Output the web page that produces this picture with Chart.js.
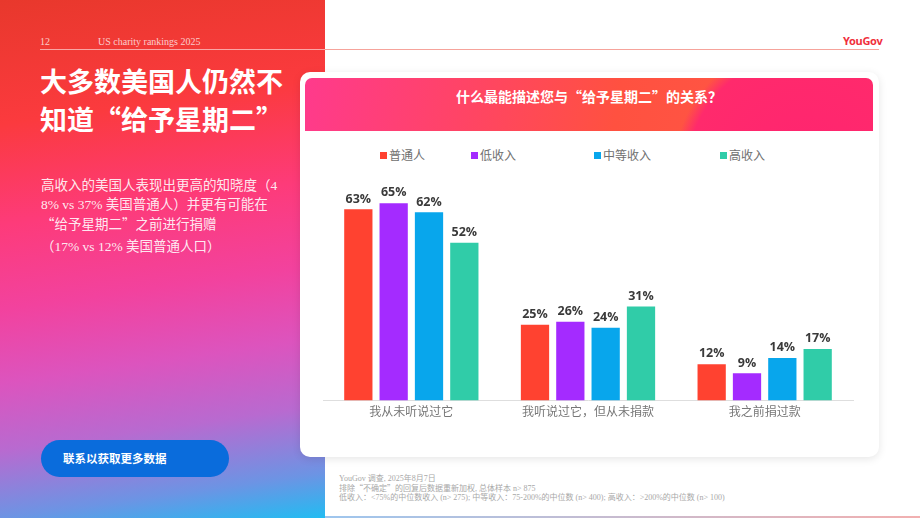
<!DOCTYPE html>
<html>
<head>
<meta charset="utf-8">
<script src="https://cdn.jsdelivr.net/npm/chart.js@4.4.1/dist/chart.umd.min.js"></script>
<style>
  html, body { margin: 0; padding: 0; }
  body { width: 920px; height: 518px; position: relative; overflow: hidden; background: #fff;
         font-family: "Noto Sans CJK SC", "Noto Sans", sans-serif; }
  .abs { position: absolute; white-space: nowrap; }
  #left { left: 0; top: 0; width: 325px; height: 518px;
          background: linear-gradient(172deg, #e8382c 0%, #fb3a3e 22%, #fd3b7a 40%, #f2429e 55%, #dc54be 68%, #b86ad0 80%, #6c94e4 92%, #22bcf2 100%); }
  .serif { font-family: "Liberation Serif", "Noto Sans CJK SC", serif; }
  .cjk { font-family: "Noto Sans CJK SC", sans-serif; }
  #hline1 { left: 40px; top: 49px; width: 285px; height: 1px; background: rgba(255,255,255,0.55); }
  #hline2 { left: 325px; top: 49px; width: 554px; height: 1px; background: #f6a39b; }
  #title { left: 40px; top: 62px; color: #fff; font-size: 27px; font-weight: bold; line-height: 38px; }
  #para { left: 41px; top: 176px; color: rgba(255,255,255,0.9); font-size: 13.5px; line-height: 19px; }
  #btn { left: 41px; top: 440px; width: 188px; height: 37px; border-radius: 19px; background: #0a6cdc; }
  #btn span { position: absolute; left: 22px; top: 10px; color: #fff; font-size: 11.5px; font-weight: bold; }
  #card { left: 300px; top: 72px; width: 579px; height: 385px; background: #fff; border-radius: 10px;
          box-shadow: 0 2px 8px rgba(0,0,0,0.10); }
  #band { left: 305px; top: 78px; width: 568px; height: 53px; border-radius: 7px 7px 0 0; overflow: hidden;
          background: radial-gradient(circle at 500px 95px, #ff2470 0, #ff2a6c 118px, rgba(255,80,70,0) 132px),
                      linear-gradient(100deg, #ff3a8c 0%, #ff4466 28%, #ff5140 55%, #ff5a48 100%); }
  #band span { position: absolute; left: 0; width: 568px; top: 8px; text-align: center; color: #fff;
               font-size: 14px; font-weight: bold; }
  .leg { top: 146px; font-size: 12px; color: #707070; }
  .leg i { display: inline-block; width: 7px; height: 7px; margin-right: 2px; vertical-align: 1px; }
  #foot { left: 339px; top: 474px; font-size: 8px; line-height: 9px; color: #a8a8a8; }
  #bottom { left: 325px; top: 516px; width: 595px; height: 2px; background: linear-gradient(90deg, #9ec6ee, #f2b0b0); }
  #chart { position: absolute; left: 305px; top: 140px; }
</style>
</head>
<body>
<div id="left" class="abs"></div>
<div id="hline1" class="abs"></div>
<div id="hline2" class="abs"></div>
<div class="abs serif" style="left:40px;top:36px;font-size:10px;color:rgba(255,255,255,0.75);">12</div>
<div class="abs serif" style="left:98px;top:36px;font-size:10px;color:rgba(255,255,255,0.75);">US charity rankings 2025</div>
<div class="abs" style="left:843px;top:33px;font-size:11px;font-weight:bold;color:#f0303c;font-family:'Noto Sans',sans-serif;letter-spacing:-0.3px;">YouGov</div>
<div id="title" class="abs">大多数美国人仍然不<br>知道“给予星期二”</div>
<div id="para" class="abs serif">高收入的美国人表现出更高的知晓度（4<br>8% vs 37% 美国普通人）并更有可能在<br><span class="cjk">“</span>给予星期二<span class="cjk">”</span>之前进行捐赠<br><span style="display:inline-block;margin-top:3px;">（17% vs 12% 美国普通人口）</span></div>
<div id="btn" class="abs"><span>联系以获取更多数据</span></div>

<div id="card" class="abs"></div>
<div id="band" class="abs"><span>什么最能描述您与“给予星期二”的关系？</span></div>
<div id="legend"></div>
<canvas id="chart" width="565" height="300"></canvas>

<div id="foot" class="abs serif">YouGov 调查, 2025年8月7日<br>排除<span class="cjk">“</span>不确定<span class="cjk">”</span>的回复后数据重新加权, 总体样本 n&gt; 875<br>低收入：&lt;75%的中位数收入 (n&gt; 275); 中等收入：75-200%的中位数 (n&gt; 400); 高收入：&gt;200%的中位数 (n&gt; 100)</div>
<div id="bottom" class="abs"></div>

<script>
// 数据
var categories = ["我从未听说过它", "我听说过它，但从未捐款", "我之前捐过款"];
var seriesNames = ["普通人", "低收入", "中等收入", "高收入"];
var seriesColors = ["#ff4230", "#a42bff", "#08a6ec", "#30cca8"];
var generalPop = [63, 25, 12];
var lowIncome = [65, 26, 9];
var midIncome = [62, 24, 14];
var highIncome = [52, 31, 17];
var seriesValues = [generalPop, lowIncome, midIncome, highIncome];
var legendX = [380, 471, 594, 720];

// 图例
var legend = document.getElementById("legend");
seriesNames.forEach(function (name, i) {
    var d = document.createElement("div");
    d.className = "abs leg";
    d.style.left = legendX[i] + "px";
    d.innerHTML = '<i style="background:' + seriesColors[i] + '"></i>' + name;
    legend.appendChild(d);
});

// 柱顶数值
var valueLabels = {
    id: "valueLabels",
    afterDatasetsDraw: function (chart) {
        var ctx = chart.ctx;
        ctx.save();
        ctx.font = "bold 12.5px 'Open Sans', 'Noto Sans', sans-serif";
        ctx.fillStyle = "#3a3a3a";
        ctx.textAlign = "center";
        ctx.textBaseline = "bottom";
        chart.data.datasets.forEach(function (ds, i) {
            chart.getDatasetMeta(i).data.forEach(function (bar, j) {
                ctx.fillText(ds.data[j] + "%", bar.x, bar.y - 4);
            });
        });
        ctx.restore();
    }
};

new Chart(document.getElementById("chart"), {
    type: "bar",
    data: {
        labels: categories,
        datasets: seriesNames.map(function (name, i) {
            return { label: name, data: seriesValues[i], backgroundColor: seriesColors[i],
                     categoryPercentage: 0.8, barPercentage: 0.8 };
        })
    },
    options: {
        responsive: false,
        animation: false,
        layout: { padding: { left: 18, right: 17, top: 48, bottom: 17 } },
        plugins: { legend: { display: false }, tooltip: { enabled: false } },
        scales: {
            x: {
                grid: { display: false, drawTicks: false },
                border: { display: true, color: "#dedede", width: 1 },
                ticks: { color: "#777", padding: 4, font: { size: 12, family: "'Noto Sans CJK SC', sans-serif" } }
            },
            y: { display: false, min: 0, max: 70 }
        }
    },
    plugins: [valueLabels]
});
</script>
</body>
</html>
